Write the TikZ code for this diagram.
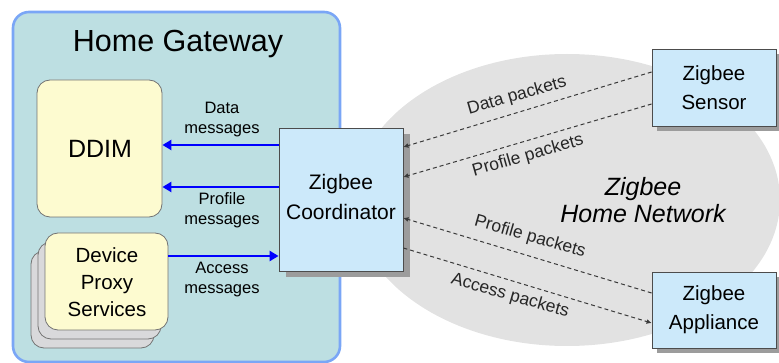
\documentclass[tikz,border=0pt]{standalone}
\usepackage{fontspec}
\setmainfont{Liberation Sans}
\usetikzlibrary{arrows.meta}
\definecolor{gwfill}{HTML}{BDDFE2}
\definecolor{gwborder}{HTML}{7AA6F6}
\definecolor{boxblue}{HTML}{CCE9FA}
\definecolor{boxyellow}{HTML}{FDFBD0}
\definecolor{netgray}{HTML}{E2E2E2}
\definecolor{stackgray}{HTML}{D9D9DB}
\definecolor{pktline}{HTML}{3A3A3A}
\definecolor{shadowgray}{HTML}{9C9C9C}
\tikzset{
  bluebox/.style={draw=black!70, fill=boxblue, line width=0.8pt, inner sep=0pt, align=center},
  yelbox/.style={draw=black!55, fill=boxyellow, line width=0.8pt, rounded corners=13pt, inner sep=0pt, align=center},
  greybox/.style={draw=black!55, fill=stackgray, line width=0.8pt, rounded corners=13pt, inner sep=0pt},
  msgarrow/.style={draw=blue, line width=2.8pt, -{Triangle[length=9pt,width=10pt]}},
  pkt/.style={draw=pktline, line width=1pt, dash pattern=on 4pt off 3pt},
  pkttip/.style={-{Latex[length=5pt,width=5pt]}},
  lbl/.style={font=\fontsize{16.5}{20}\selectfont, align=center, inner sep=0pt},
  plbl/.style={font=\fontsize{17.5}{20}\selectfont, text=black!85, inner sep=0pt}
}
\begin{document}
\begin{tikzpicture}[x=1pt, y=-1pt]
\useasboundingbox (0,0) rectangle (779,363);
% network ellipse
\fill[netgray] (567,200) ellipse [x radius=213, y radius=146];
% home gateway
\node[draw=gwborder, fill=gwfill, line width=2.6pt, rounded corners=16pt, minimum width=327pt, minimum height=350pt, inner sep=0pt] (gw) at (176.5,187) {};
\node[font=\fontsize{30.5}{34}\selectfont, inner sep=0pt] (gwt) at (178,44) {Home Gateway};
% DDIM
\node[yelbox, minimum width=125pt, minimum height=137pt] (ddim) at (99.5,148.5) {};
\node[font=\fontsize{25}{30}\selectfont, inner sep=0pt] (ddimt) at (100,149) {DDIM};
% device proxy stack
\node[greybox, minimum width=123pt, minimum height=97pt] (dp3) at (92.5,299.5) {};
\node[greybox, minimum width=123pt, minimum height=97pt] (dp2) at (99.5,290.5) {};
\node[yelbox, minimum width=123pt, minimum height=97pt] (dp) at (106.5,281.5) {};
\node[align=center, inner sep=0pt, font=\fontsize{20.5}{27}\selectfont] (dpt) at (107,282) {Device\\Proxy\\Services};
% shadows
\fill[shadowgray] (285.5,134.5) rectangle (409.5,277.5);
\fill[shadowgray] (657,54) rectangle (781,131);
\fill[shadowgray] (657,277) rectangle (781,353);
% coordinator
\node[bluebox, minimum width=124pt, minimum height=143pt] (coord) at (341,199.5) {};
\node[align=center, inner sep=0pt, font=\fontsize{21}{30}\selectfont] (coordt) at (341,197) {Zigbee\\Coordinator};
% sensor
\node[bluebox, minimum width=124pt, minimum height=77pt] (sensor) at (714,87.5) {};
\node[align=center, inner sep=0pt, font=\fontsize{20.5}{29}\selectfont] (sensort) at (714,88) {Zigbee\\Sensor};
% appliance
\node[bluebox, minimum width=124pt, minimum height=76pt] (app) at (714,310) {};
\node[align=center, inner sep=0pt, font=\fontsize{20.5}{29}\selectfont] (appt) at (714,310) {Zigbee\\Appliance};
% network label
\node[align=center, inner sep=0pt, font=\fontsize{25}{27}\selectfont\itshape] (net) at (643,200) {Zigbee\\Home Network};
% blue message arrows
\draw[msgarrow] (coord.west |- 0,145) -- (ddim.east |- 0,145);
\draw[msgarrow] (coord.west |- 0,187) -- (ddim.east |- 0,187);
\draw[msgarrow] (dp.east |- 0,256) -- (coord.west |- 0,256);
\node[lbl] (l1) at (222,120) {Data\\messages};
\node[lbl] (l2) at (222,210) {Profile\\messages};
\node[lbl] (l3) at (222,280) {Access\\messages};
% packets
\draw[pkt, pkttip] (sensor.west |- 0,72) -- (coord.east |- 0,147);
\draw[pkt, pkttip] (sensor.west |- 0,104) -- (coord.east |- 0,177);
\draw[pkt, pkttip] (app.west |- 0,293) -- (coord.east |- 0,218);
\draw[pkt, pkttip] (coord.east |- 0,248) -- (app.west |- 0,323);
\node[plbl, rotate=16] (p1) at (517,96) {Data packets};
\node[plbl, rotate=16] (p2) at (528,156) {Profile packets};
\node[plbl, rotate=-16] (p3) at (530,237) {Profile packets};
\node[plbl, rotate=-16] (p4) at (510,296) {Access packets};
\end{tikzpicture}
\end{document}
